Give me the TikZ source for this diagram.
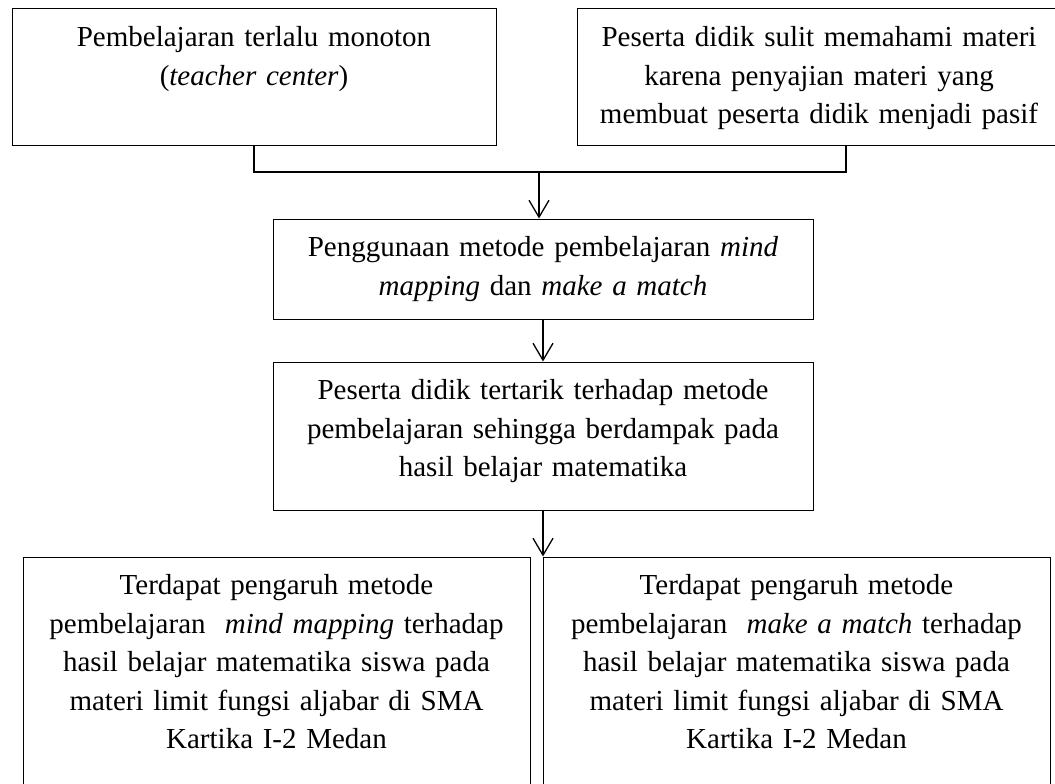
\documentclass[tikz,border=0pt]{standalone}
\usepackage{fontspec}
\setmainfont{Liberation Serif}
\usetikzlibrary{arrows.meta}

\tikzset{
  kotak/.style={draw, line width=1pt, inner sep=0pt},
  isi/.style={anchor=north, yshift=-11pt, inner sep=0pt, align=center,
    font=\fontsize{29}{38.5}\selectfont},
  garis/.style={line width=1.3pt},
  panah/.style={garis, -{Straight Barb[length=17pt,width=20pt]}}
}

\begin{document}
\begin{tikzpicture}[x=1pt, y=-1pt]
  \useasboundingbox (0,0) rectangle (1055,784);
  % row 1: the two problems
  \node[kotak, minimum width=484pt, minimum height=136pt] (b1) at (254,77) {};
  \node[isi, text width=470pt] (t1) at (b1.north)
    {\strut Pembelajaran terlalu monoton\\(\textit{teacher center})};
  \node[kotak, minimum width=484pt, minimum height=136pt] (b2) at (819,77) {};
  \node[isi, text width=470pt] (t2) at (b2.north)
    {\strut Peserta didik sulit memahami materi\\karena penyajian materi yang\\membuat peserta didik menjadi pasif};
  % the method
  \node[kotak, minimum width=540pt, minimum height=100pt] (b3) at (543,269) {};
  \node[isi, text width=526pt] (t3) at (b3.north)
    {\strut Penggunaan metode pembelajaran \textit{mind}\\\textit{mapping} dan \textit{make a match}};
  % the effect
  \node[kotak, minimum width=540pt, minimum height=148pt] (b4) at (543,436) {};
  \node[isi, text width=526pt] (t4) at (b4.north)
    {\strut Peserta didik tertarik terhadap metode\\pembelajaran sehingga berdampak pada\\hasil belajar matematika};
  % row 3: the two hypotheses
  \node[kotak, minimum width=507pt, minimum height=243pt] (b5) at (276.5,678.5) {};
  \node[isi, text width=495pt] (t5) at (b5.north)
    {\strut Terdapat pengaruh metode\\pembelajaran~ \textit{mind mapping} terhadap\\hasil belajar matematika siswa pada\\materi limit fungsi aljabar di SMA\\Kartika I-2 Medan};
  \node[kotak, minimum width=507pt, minimum height=243pt] (b6) at (796.5,678.5) {};
  \node[isi, text width=495pt] (t6) at (b6.north)
    {\strut Terdapat pengaruh metode\\pembelajaran~ \textit{make a match} terhadap\\hasil belajar matematika siswa pada\\materi limit fungsi aljabar di SMA\\Kartika I-2 Medan};
  % connectors
  \coordinate (temu) at (539,172);
  \coordinate (kaki2) at (846,145);
  \draw[garis] (b1.south) |- (temu) -| (kaki2);
  \draw[panah] (temu) -- (temu |- b3.north);
  \draw[panah] (b3.south) -- (b4.north);
  \draw[panah] (b4.south) -- (b4.south |- b6.north);
\end{tikzpicture}
\end{document}
